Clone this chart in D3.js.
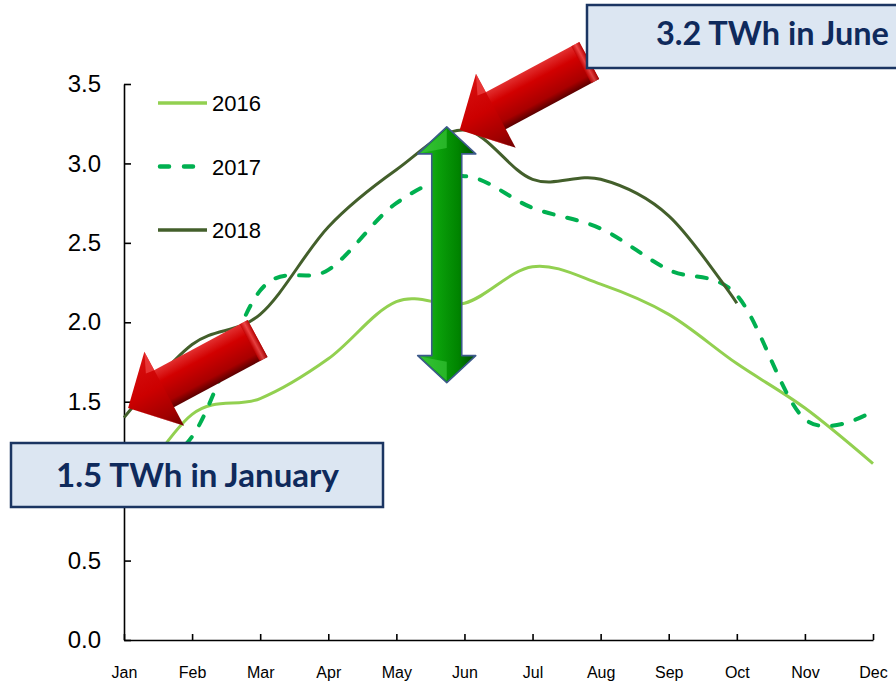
<!DOCTYPE html>
<html>
<head>
<meta charset="utf-8">
<script src="https://cdn.jsdelivr.net/npm/d3@7"></script>
<style>
  body { margin: 0; background: #fff; }
  svg { display: block; }
</style>
</head>
<body>
<div id="chart"></div>
<script>
// monthly values, TWh
var months = ['Jan', 'Feb', 'Mar', 'Apr', 'May', 'Jun', 'Jul', 'Aug', 'Sep', 'Oct', 'Nov', 'Dec'];
var seriesNames = ['2016', '2017', '2018'];
var v2016 = [0.85, 1.42, 1.52, 1.77, 2.13, 2.12, 2.35, 2.24, 2.05, 1.74, 1.46, 1.11];
var v2017 = [1.0, 1.28, 2.2, 2.33, 2.75, 2.92, 2.72, 2.59, 2.33, 2.17, 1.39, 1.44];
var v2018 = [1.4, 1.86, 2.05, 2.6, 2.96, 3.21, 2.9, 2.9, 2.67, 2.12];
var yTicks = [0, 0.5, 1.0, 1.5, 2.0, 2.5, 3.0, 3.5];
var seriesColors = ['#92d050', '#00b050', '#435f2b'];

var width = 896, height = 692;
var svg = d3.select('#chart').append('svg')
  .attr('width', width)
  .attr('height', height);

var x = d3.scaleLinear().domain([0, 11]).range([124, 873]);
var y = d3.scaleLinear().domain([0, 3.5]).range([640, 84]);

var defs = svg.append('defs');

// axes
var yAxis = d3.axisLeft(y)
  .tickValues(yTicks)
  .tickFormat(function(d) { return d == 1 ? '' : d3.format('.1f')(d); }) // 1.0 sits under the callout
  .tickSizeInner(-7)
  .tickSizeOuter(0)
  .tickPadding(23);
var gy = svg.append('g').attr('transform', 'translate(124,0)').call(yAxis);
gy.selectAll('text')
  .attr('font-family', 'Liberation Sans, Arial, sans-serif')
  .attr('font-size', 24)
  .attr('fill', '#000');

var xAxis = d3.axisBottom(x)
  .tickValues(d3.range(months.length))
  .tickFormat(function(i) { return months[i]; })
  .tickSizeInner(-6)
  .tickSizeOuter(0)
  .tickPadding(27);
var gx = svg.append('g').attr('transform', 'translate(0,640)').call(xAxis);
gx.selectAll('text')
  .attr('font-family', 'Liberation Sans Narrow, Arial Narrow, Liberation Sans, sans-serif')
  .attr('font-size', 16)
  .attr('fill', '#000');
svg.selectAll('.domain, .tick line').attr('stroke', '#000').attr('stroke-width', 1.6);

// lines
var line = d3.line()
  .x(function(d, i) { return x(i); })
  .y(function(d) { return y(d); })
  .curve(d3.curveCatmullRom.alpha(0));

var allSeries = [v2016, v2017, v2018];
allSeries.forEach(function(vals, k) {
  svg.append('path')
    .datum(vals)
    .attr('d', line)
    .attr('fill', 'none')
    .attr('stroke', seriesColors[k])
    .attr('stroke-width', k == 1 ? 4 : 3)
    .attr('stroke-linecap', k == 1 ? 'round' : 'butt')
    .attr('stroke-dasharray', k == 1 ? '10,14' : null);
});

// legend
var legend = svg.append('g');
seriesNames.forEach(function(name, k) {
  var ly = 103 + k * 63.5;
  legend.append('line')
    .attr('x1', k == 1 ? 160 : 158).attr('x2', 207)
    .attr('y1', ly).attr('y2', ly)
    .attr('stroke', seriesColors[k])
    .attr('stroke-width', k == 1 ? 4.5 : 3.5)
    .attr('stroke-linecap', k == 1 ? 'round' : 'butt')
    .attr('stroke-dasharray', k == 1 ? '9,15' : null);
  legend.append('text')
    .attr('x', 212).attr('y', ly + 8)
    .attr('font-family', 'Liberation Sans, Arial, sans-serif')
    .attr('font-size', 22)
    .text(name);
});

// gradients for the arrows
function grad(id, x1, y1, x2, y2, stops, units) {
  var g = defs.append('linearGradient').attr('id', id)
    .attr('x1', x1).attr('y1', y1).attr('x2', x2).attr('y2', y2);
  if (units) g.attr('gradientUnits', units);
  stops.forEach(function(s) {
    g.append('stop').attr('offset', s[0]).attr('stop-color', s[1]);
  });
}
grad('redShaft', 0, -21, 0, 21, [[0, '#e23030'], [0.3, '#d20000'], [0.8, '#a80000'], [1, '#5a0000']], 'userSpaceOnUse');
grad('redHead', 0, -42, 0, 42, [[0, '#d81010'], [0.45, '#cc0000'], [0.8, '#a00000'], [1, '#700000']], 'userSpaceOnUse');
grad('redEnd', 138, 0, 147, 0, [[0, '#c00000'], [0.5, '#f05050'], [1, '#b00000']], 'userSpaceOnUse');
grad('greenBody', 0, 0, 1, 0, [[0, '#2cb82c'], [0.35, '#0aa00a'], [0.7, '#008400'], [1, '#004c00']]);

// 3D-ish red arrow, tip given in data units
function redArrow(ti, tv) {
  var rot = Math.atan2(-69.5, 129.5) * 180 / Math.PI;
  var g = svg.append('g')
    .attr('transform', 'translate(' + x(ti) + ',' + y(tv) + ') rotate(' + rot + ')');
  g.append('polygon')
    .attr('points', '36,-21 147,-21 147,21 36,21')
    .attr('fill', 'url(#redShaft)');
  g.append('polygon')
    .attr('points', '138,-21 147,-21 147,21 138,21')
    .attr('fill', 'url(#redEnd)').attr('opacity', 0.8);
  g.append('polygon')
    .attr('points', '0,0 41,-42 41,42')
    .attr('fill', 'url(#redHead)');
  g.append('polygon')
    .attr('points', '41,-42 32,-22 41,-21')
    .attr('fill', '#f04848').attr('opacity', 0.7);
  g.append('polygon')
    .attr('points', '0,0 41,42 30,30')
    .attr('fill', '#e84040').attr('opacity', 0.5);
}

// green double arrow between 2018 peak and ~1.6
var gIdx = 4.74, gTopVal = 3.23, gBotVal = 1.62;
var gcx = x(gIdx), gTopY = y(gTopVal), gBotY = y(gBotVal);
var hl = 27, hw = 29, sw = 15;
function pts(arr) { return arr.map(function(p) { return p.join(','); }).join(' '); }
svg.append('polygon')
  .attr('points', pts([
    [gcx, gTopY], [gcx + hw, gTopY + hl], [gcx + sw, gTopY + hl], [gcx + sw, gBotY - hl], [gcx + hw, gBotY - hl],
    [gcx, gBotY], [gcx - hw, gBotY - hl], [gcx - sw, gBotY - hl], [gcx - sw, gTopY + hl], [gcx - hw, gTopY + hl]
  ]))
  .attr('fill', 'url(#greenBody)')
  .attr('stroke', '#3c5a8a')
  .attr('stroke-width', 1.6)
  .attr('stroke-linejoin', 'round');
svg.append('polygon')
  .attr('points', pts([[gcx, gTopY + 2], [gcx - hw + 3, gTopY + hl - 1], [gcx, gTopY + hl - 6]]))
  .attr('fill', '#40cc40').attr('opacity', 0.6);
svg.append('polygon')
  .attr('points', pts([[gcx, gBotY - 2], [gcx - hw + 3, gBotY - hl + 1], [gcx, gBotY - hl + 6]]))
  .attr('fill', '#40cc40').attr('opacity', 0.6);

redArrow(4.93, 3.21);
redArrow(0.06, 1.46);

// callout boxes
var boxes = [
  { x: 587, y: 5, w: 330, h: 63, tx: 656, ty: 45, tw: 233, text: '3.2 TWh in June' },
  { x: 11, y: 443, w: 372, h: 64, tx: 56, ty: 487, tw: 283, text: '1.5 TWh in January' }
];
boxes.forEach(function(b) {
  svg.append('rect')
    .attr('x', b.x).attr('y', b.y).attr('width', b.w).attr('height', b.h)
    .attr('fill', '#dce6f2')
    .attr('stroke', '#1b3562')
    .attr('stroke-width', 2.5);
  var t = svg.append('text')
    .attr('x', b.tx).attr('y', b.ty)
    .attr('font-family', 'Lato, Open Sans, sans-serif')
    .attr('font-weight', 700)
    .attr('font-size', 30)
    .attr('fill', '#0f2a5c')
    .text(b.text);
  var w = t.node().getComputedTextLength();
  t.attr('font-size', 30 * b.tw / w);
});
</script>
</body>
</html>
